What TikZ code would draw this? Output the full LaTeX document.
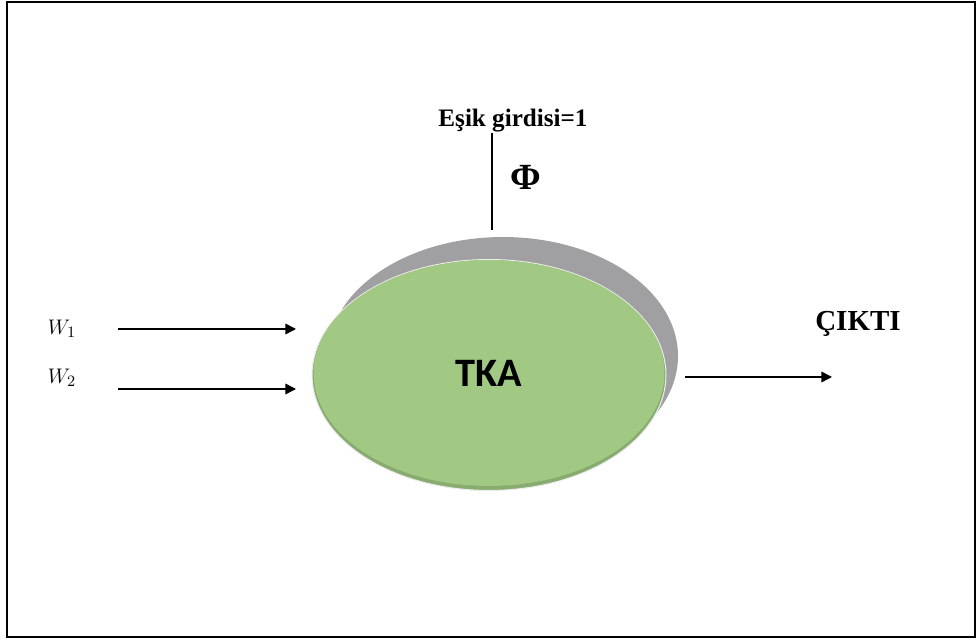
\documentclass[tikz,border=0pt]{standalone}
\usepackage{fontspec}
\setmainfont{Liberation Serif}
\newfontfamily\calibri{Carlito}
\usetikzlibrary{shapes.geometric,arrows.meta}
\definecolor{diskgreen}{RGB}{161,201,131}
\definecolor{diskrim}{RGB}{136,172,112}
\definecolor{diskgray}{RGB}{160,160,163}

\begin{document}
\begin{tikzpicture}[x=0.02cm,y=-0.02cm,
        arr/.style={line width=0.85pt,-{Triangle[length=6pt,width=6pt]}}]
        \useasboundingbox (0,0) rectangle (977,641);
        \draw [black,line width=1pt] (7,2) rectangle (975,637);
        \node [ellipse,fill=diskgray,minimum width=7.0cm,minimum height=4.76cm] (back) at (503,356) {};
        \node [ellipse,fill=diskrim,draw=white!85!gray,line width=0.6pt,minimum width=7.08cm,minimum height=4.62cm] (rim) at (489,375) {};
        \node [ellipse,fill=diskgreen,minimum width=7.02cm,minimum height=4.52cm,font=\calibri\bfseries\fontsize{23}{26}\selectfont] (tka) at (489,373) {TKA};
        \node [font=\fontsize{13}{15}\selectfont] (w1) at (62,329) {$W_1$};
        \node [font=\fontsize{13}{15}\selectfont] (w2) at (62,378) {$W_2$};
        \node [font=\bfseries\fontsize{14.3}{16}\selectfont] (esik) at (513,121) {Eşik girdisi=1};
        \node [font=\bfseries\fontsize{21}{24}\selectfont] (phi) at (526,177) {Φ};
        \node [font=\bfseries\fontsize{16.5}{19}\selectfont] (cikti) at (858,324) {ÇIKTI};
        \coordinate (w1a) at (118,329);
        \coordinate (w1b) at (296,329);
        \coordinate (w2a) at (118,389);
        \coordinate (w2b) at (296,389);
        \coordinate (outa) at (685,377);
        \coordinate (outb) at (832,377);
        \coordinate (biasa) at (492,133);
        \coordinate (biasb) at (492,230);
        \draw [black,arr] (w1a) -- (w1b);
        \draw [black,arr] (w2a) -- (w2b);
        \draw [black,arr] (outa) -- (outb);
        \draw [black,line width=0.85pt] (biasa) -- (biasb);
    \end{tikzpicture}
\end{document}
